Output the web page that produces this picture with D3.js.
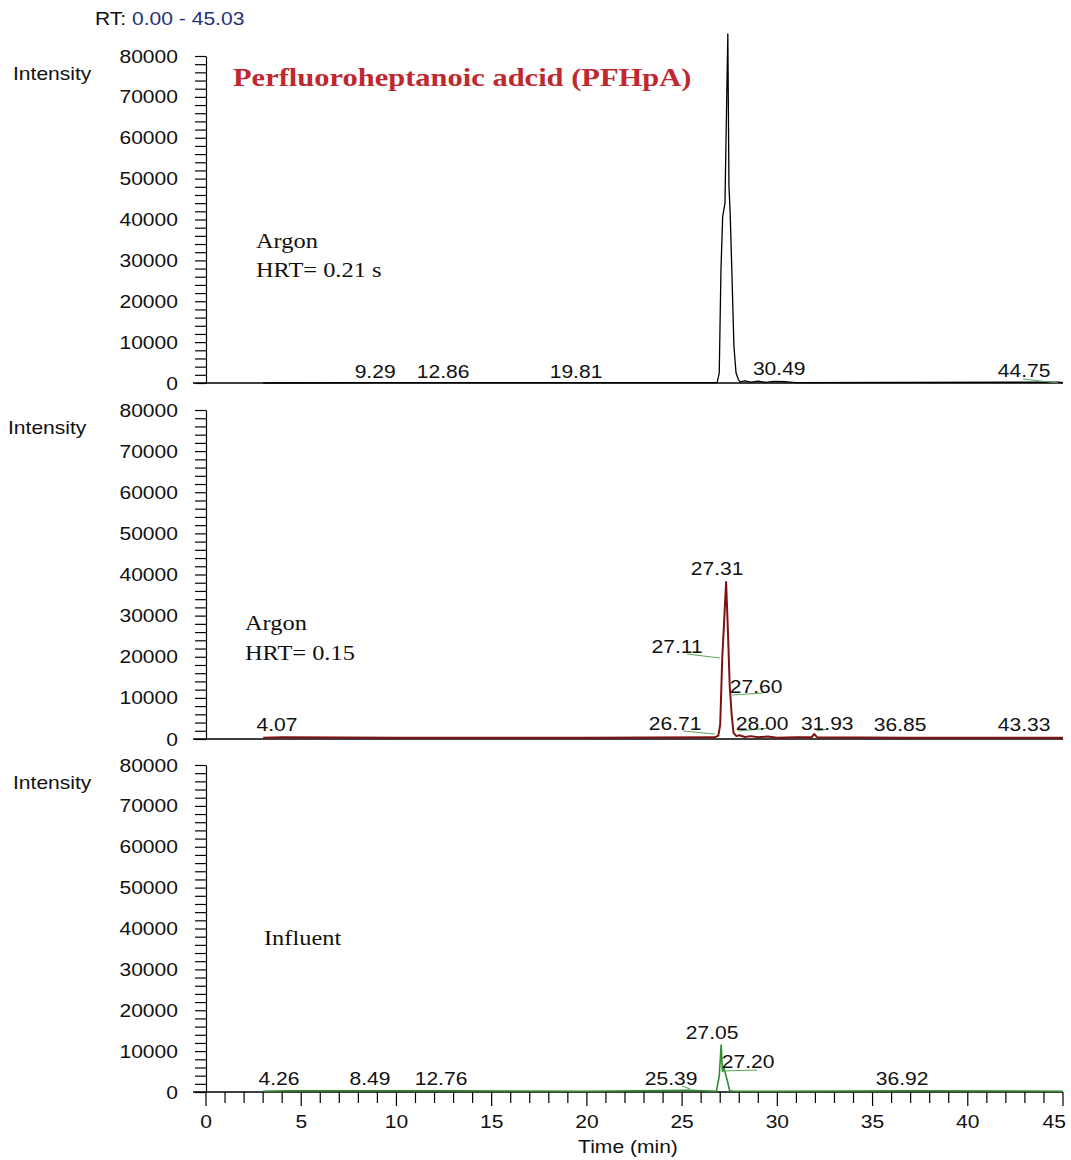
<!DOCTYPE html>
<html>
<head>
<meta charset="utf-8">
<script src="https://cdn.jsdelivr.net/npm/d3@7"></script>
<style>
  body { margin: 0; background: #fff; }
  text { font-family: "Liberation Sans", Arial, sans-serif; }
  .serif { font-family: "Liberation Serif", "Times New Roman", serif; }
</style>
</head>
<body>
<div id="chart"></div>
<script>
// 時間軸 (min) 與強度刻度
const xMajorTicks = [0, 5, 10, 15, 20, 25, 30, 35, 40, 45];
const yMajorTicks = [0, 10000, 20000, 30000, 40000, 50000, 60000, 70000, 80000];

// Panel 1 : Argon HRT = 0.21 s (black)
const timeArgon021 = [3.0, 9.29, 12.86, 19.81, 26.84, 26.95, 27.04, 27.13, 27.25, 27.4, 27.46, 27.52, 27.61, 27.72, 27.83, 27.95, 28.05, 28.3, 28.6, 29.0, 29.4, 29.8, 30.49, 31.0, 44.75, 45.0];
const intArgon021  = [0, 100, 100, 100, 100, 2500, 27700, 40700, 44000, 85400, 48000, 42000, 27700, 9000, 2500, 900, 300, 500, 200, 450, 150, 400, 300, 100, 200, 100];
const peakArgon021 = ["9.29", "12.86", "19.81", "30.49", "44.75"];
const peakTimeArgon021 = [8.88, 12.45, 19.43, 30.1, 42.96];
const peakIntArgon021  = [1220, 1220, 1220, 1960, 1470];
const leaderArgon021 = [[42.9, 980, 44.75, 0]];

// Panel 2 : Argon HRT = 0.15 (dark red)
const timeArgon015 = [3.0, 4.07, 10.0, 20.0, 26.71, 26.9, 27.0, 27.11, 27.2, 27.31, 27.4, 27.5, 27.6, 27.7, 27.85, 28.0, 28.3, 28.6, 29.0, 29.5, 30.0, 31.0, 31.8, 31.93, 32.1, 36.85, 43.33, 45.0];
const intArgon015  = [300, 400, 300, 300, 400, 800, 3500, 20000, 28000, 38200, 27000, 13000, 6000, 1500, 700, 900, 500, 700, 400, 600, 300, 400, 400, 1200, 400, 300, 300, 300];
const peakArgon015 = ["4.07", "26.71", "27.11", "27.31", "27.60", "28.00", "31.93", "36.85", "43.33"];
const peakTimeArgon015 = [3.73, 24.63, 24.74, 26.84, 28.89, 29.2, 32.62, 36.45, 42.96];
const peakIntArgon015  = [1950, 2190, 20910, 39880, 11190, 2190, 2190, 1950, 1950];
const leaderArgon015 = [[25.26, 20670, 26.99, 19700], [27.63, 10700, 29.25, 11190], [25.05, 1950, 26.73, 1220], [27.94, 1950, 29.62, 2670], [32.05, 1950, 32.67, 2430]];

// Panel 3 : Influent (green)
const timeInfluent = [3.0, 4.26, 8.49, 12.76, 20.0, 25.39, 26.8, 26.95, 27.05, 27.12, 27.2, 27.28, 27.38, 27.5, 27.7, 30.0, 36.92, 45.0];
const intInfluent  = [200, 300, 300, 300, 200, 400, 200, 3900, 11500, 5000, 5800, 4400, 2700, 300, 200, 200, 300, 200];
const peakInfluent = ["4.26", "8.49", "12.76", "25.39", "27.05", "27.20", "36.92"];
const peakTimeInfluent = [3.83, 8.61, 12.34, 24.42, 26.58, 28.47, 36.55];
const peakIntInfluent  = [1710, 1710, 1710, 1710, 12970, 5870, 1710];
const leaderInfluent = [[27.1, 5140, 28.94, 5380], [25.0, 1470, 25.42, 730]];

// 版面
const width = 1071, height = 1160;
const SX = 1.17; // 原圖文字水平拉長

const svg = d3.select("#chart").append("svg")
  .attr("width", width).attr("height", height);

const x = d3.scaleLinear().domain([0, 45]).range([206, 1063]);

const panels = [
  { time: timeArgon021, val: intArgon021, color: "#000000", sw: 1.3,
    peaks: peakArgon021, pt: peakTimeArgon021, pi: peakIntArgon021, leaders: leaderArgon021,
    top: 56, bottom: 383, intensityX: 13, notes: [["Argon", 256, 248], ["HRT= 0.21 s", 256, 277]] },
  { time: timeArgon015, val: intArgon015, color: "#7d1212", sw: 2,
    peaks: peakArgon015, pt: peakTimeArgon015, pi: peakIntArgon015, leaders: leaderArgon015,
    top: 410, bottom: 739, intensityX: 8, notes: [["Argon", 245, 630], ["HRT= 0.15", 245, 660]] },
  { time: timeInfluent, val: intInfluent, color: "#2e8b2e", sw: 1.6,
    peaks: peakInfluent, pt: peakTimeInfluent, pi: peakIntInfluent, leaders: leaderInfluent,
    top: 765, bottom: 1092, intensityX: 13, notes: [["Influent", 264, 945]] }
];

function stretchText(g, px, py, txt, anchor, size, sx) {
  return g.append("text")
    .attr("transform", `translate(${px},${py}) scale(${sx || SX},1)`)
    .attr("text-anchor", anchor || "start")
    .style("font-size", (size || 18) + "px")
    .text(txt);
}

// RT 標題
const rt = svg.append("text")
  .attr("transform", `translate(95,25) scale(${SX},1)`)
  .style("font-size", "18px");
rt.append("tspan").attr("fill", "#111").text("RT: ");
rt.append("tspan").attr("fill", "#24307a").text("0.00 - 45.03");

panels.forEach((p, i) => {
  const g = svg.append("g");
  const y = d3.scaleLinear().domain([0, 80000]).range([p.bottom, p.top]);

  // y 軸
  g.append("g")
    .attr("transform", `translate(${x(0)},0)`)
    .call(d3.axisLeft(y).tickValues(d3.range(0, 80001, 2000)).tickSize(11).tickSizeOuter(0).tickFormat(""))
    .call(a => a.selectAll("line,path").attr("stroke", "#000").attr("stroke-width", 1.2));

  yMajorTicks.forEach(v => {
    stretchText(g, 178, y(v) + 6.5, v, "end").attr("fill", "#111");
  });

  // 基線
  g.append("line")
    .attr("x1", 193).attr("x2", x(45))
    .attr("y1", y(0)).attr("y2", y(0))
    .attr("stroke", "#000").attr("stroke-width", 1.3);

  stretchText(g, p.intensityX, p.top + 24, "Intensity", "start").attr("fill", "#111");

  // 層析圖
  const pts = p.time.map((t, k) => [t, p.val[k]]);
  g.append("path")
    .datum(pts)
    .attr("fill", "none")
    .attr("stroke", p.color)
    .attr("stroke-width", p.sw)
    .attr("stroke-linejoin", "round")
    .attr("d", d3.line().x(d => x(d[0])).y(d => y(d[1])));

  // 標籤引線
  p.leaders.forEach(l => {
    g.append("line")
      .attr("x1", x(l[0])).attr("y1", y(l[1]))
      .attr("x2", x(l[2])).attr("y2", y(l[3]))
      .attr("stroke", "#5aa85a").attr("stroke-width", 1.2);
  });

  // 峰值標籤
  p.peaks.forEach((lab, k) => {
    stretchText(g, x(p.pt[k]), y(p.pi[k]), lab, "middle").attr("fill", "#111");
  });

  // 註解
  p.notes.forEach(n => {
    stretchText(g, n[1], n[2], n[0], "start", 20, 1.22)
      .attr("class", "serif").attr("fill", "#111");
  });

  // 最下方的時間軸
  if (i === panels.length - 1) {
    const xa = g.append("g");
    d3.range(0, 46, 1).forEach(t => {
      xa.append("line")
        .attr("x1", x(t)).attr("x2", x(t))
        .attr("y1", y(0)).attr("y2", y(0) + (t % 5 === 0 ? 14 : 11))
        .attr("stroke", "#000").attr("stroke-width", 1.2);
    });
    xMajorTicks.forEach(t => {
      const last = t === 45;
      stretchText(xa, last ? x(t) + 3 : x(t), 1128, t, last ? "end" : "middle").attr("fill", "#111");
    });
    stretchText(xa, 628, 1153, "Time (min)", "middle").attr("fill", "#111");
  }
});

// 圖名
svg.append("text")
  .attr("class", "serif")
  .attr("transform", `translate(233,86) scale(1.22,1)`)
  .style("font-size", "25px")
  .style("font-weight", "bold")
  .attr("fill", "#c0282f")
  .text("Perfluoroheptanoic adcid (PFHpA)");
</script>
</body>
</html>
